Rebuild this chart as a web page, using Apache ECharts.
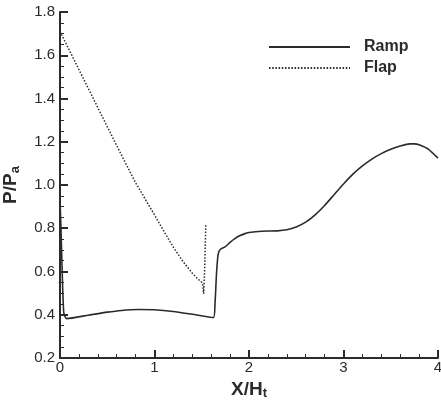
<!DOCTYPE html>
<html>
<head>
<meta charset="utf-8">
<script src="https://cdn.jsdelivr.net/npm/echarts@6/dist/echarts.min.js"></script>
<style>
html,body{margin:0;padding:0;background:#fff;}
#c{width:441px;height:406px;}
</style>
</head>
<body>
<div id="c"></div>
<script>
const seriesNames = ['Ramp', 'Flap'];
const xTicks = [0, 1, 2, 3, 4];
const yTicks = [0.2, 0.4, 0.6, 0.8, 1.0, 1.2, 1.4, 1.6, 1.8];

const rampX = [0, 0.01, 0.02, 0.03, 0.04, 0.055, 0.07, 0.3, 0.5, 0.65, 0.83, 1.0, 1.2, 1.4, 1.624,
  1.64, 1.655, 1.668, 1.68, 1.70, 1.75, 1.8, 1.85, 1.9, 1.95, 2.0, 2.1, 2.2, 2.3, 2.4, 2.5, 2.6,
  2.7, 2.8, 2.9, 3.0, 3.1, 3.2, 3.3, 3.4, 3.5, 3.6, 3.7, 3.75, 3.8, 3.9, 4.0];
const rampY = [0.93, 0.8, 0.65, 0.5, 0.41, 0.39, 0.382, 0.398, 0.412, 0.42, 0.424, 0.423, 0.415, 0.402, 0.387,
  0.45, 0.58, 0.66, 0.69, 0.703, 0.715, 0.735, 0.752, 0.765, 0.774, 0.78, 0.785, 0.787, 0.788, 0.793, 0.806, 0.828,
  0.862, 0.905, 0.955, 1.005, 1.05, 1.088, 1.12, 1.145, 1.165, 1.18, 1.19, 1.19, 1.186, 1.165, 1.124];

const flapX = [0, 0.2, 0.4, 0.6, 0.8, 1.0, 1.1, 1.2, 1.3, 1.4, 1.45, 1.5, 1.512, 1.52, 1.53, 1.543];
const flapY = [1.71, 1.534, 1.358, 1.182, 1.01, 0.862, 0.785, 0.712, 0.647, 0.592, 0.569, 0.55, 0.535, 0.497, 0.6, 0.817];

const rampData = rampX.map((x, i) => [x, rampY[i]]);
const flapData = flapX.map((x, i) => [x, flapY[i]]);

const FONT = "'Liberation Sans', Arial, sans-serif";
const INK = '#2b2b2b';

const chart = echarts.init(document.getElementById('c'));
chart.setOption({
  animation: false,
  backgroundColor: '#fff',
  grid: { left: 60, right: 3, top: 12, bottom: 48, outerBoundsMode: 'none', containLabel: false },
  legend: {
    data: seriesNames,
    orient: 'vertical',
    left: 263,
    top: 34,
    itemWidth: 81,
    itemHeight: 12,
    itemGap: 5,
    itemStyle: { color: 'rgba(0,0,0,0)', borderColor: 'rgba(0,0,0,0)', borderWidth: 0 },
    textStyle: { fontFamily: FONT, fontSize: 16, fontWeight: 'bold', color: INK, padding: [0, 0, 0, 9] }
  },
  xAxis: {
    type: 'value',
    min: xTicks[0],
    max: xTicks[xTicks.length - 1],
    interval: 1,
    name: '{a|X/H}{b|t}',
    nameLocation: 'middle',
    nameGap: 19,
    nameTextStyle: {
      rich: {
        a: { fontFamily: FONT, fontSize: 19, fontWeight: 'bold', color: INK, lineHeight: 22 },
        b: { fontFamily: FONT, fontSize: 13, fontWeight: 'bold', color: INK, lineHeight: 10, verticalAlign: 'bottom' }
      }
    },
    axisLine: { show: true, onZero: false, lineStyle: { color: INK, width: 2 } },
    axisTick: { show: true, inside: true, length: 8, lineStyle: { color: INK, width: 2 } },
    minorTick: { show: true, splitNumber: 5, length: 4, lineStyle: { color: INK, width: 1 } },
    splitLine: { show: false },
    axisLabel: { fontFamily: FONT, fontSize: 15, color: INK, margin: 2, formatter: v => String(v) }
  },
  yAxis: {
    type: 'value',
    min: yTicks[0],
    max: yTicks[yTicks.length - 1],
    interval: 0.2,
    name: '{a|P/P}{b|a}',
    nameLocation: 'middle',
    nameGap: 38,
    nameRotate: 90,
    nameTextStyle: {
      rich: {
        a: { fontFamily: FONT, fontSize: 19, fontWeight: 'bold', color: INK, lineHeight: 22 },
        b: { fontFamily: FONT, fontSize: 13, fontWeight: 'bold', color: INK, lineHeight: 10, verticalAlign: 'bottom' }
      }
    },
    axisLine: { show: true, onZero: false, lineStyle: { color: INK, width: 2 } },
    axisTick: { show: true, inside: true, length: 8, lineStyle: { color: INK, width: 2 } },
    minorTick: { show: true, splitNumber: 4, length: 4, lineStyle: { color: INK, width: 1 } },
    splitLine: { show: false },
    axisLabel: { fontFamily: FONT, fontSize: 15, color: INK, margin: 5, formatter: v => v.toFixed(1) }
  },
  series: [
    {
      name: seriesNames[0],
      type: 'line',
      data: rampData,
      symbol: 'none',
      smooth: 0.2,
      lineStyle: { color: INK, width: 1.6 },
      itemStyle: { color: INK }
    },
    {
      name: seriesNames[1],
      type: 'line',
      data: flapData,
      symbol: 'none',
      smooth: false,
      lineStyle: { color: INK, width: 1.5, type: [1.5, 1.7] },
      itemStyle: { color: INK }
    }
  ]
});
</script>
</body>
</html>
